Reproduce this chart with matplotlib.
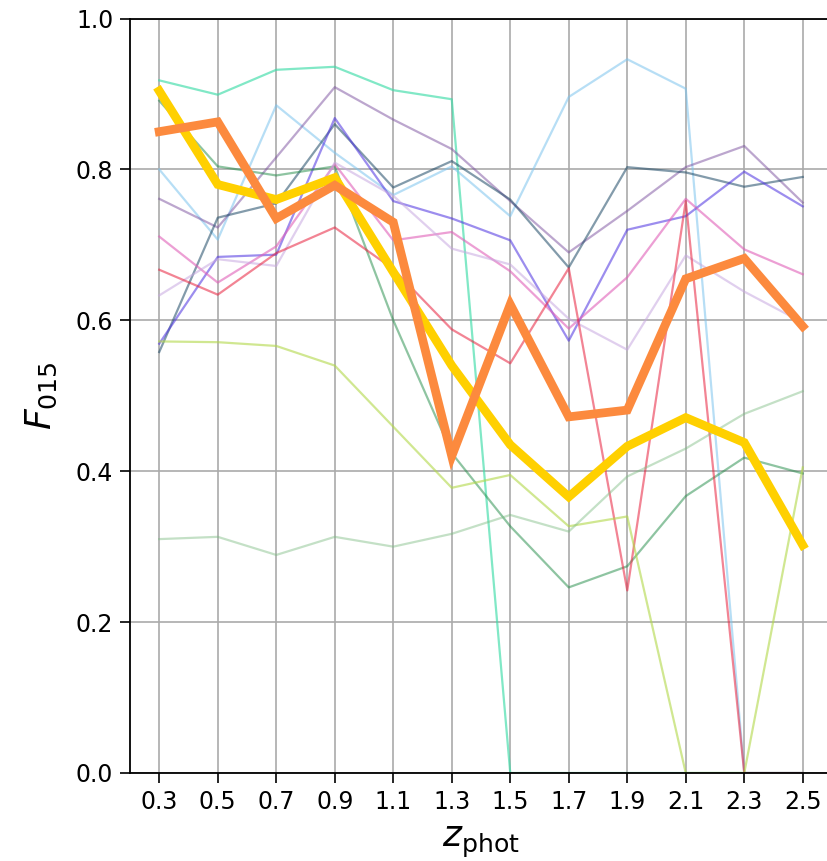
import matplotlib
matplotlib.use("Agg")
import matplotlib.pyplot as plt

# redshift bins
z_phot = [0.3, 0.5, 0.7, 0.9, 1.1, 1.3, 1.5, 1.7, 1.9, 2.1, 2.3, 2.5]
tick_labels = ["0.3", "0.5", "0.7", "0.9", "1.1", "1.3", "1.5", "1.7", "1.9", "2.1", "2.3", "2.5"]

# individual (thin) curves
f_aqua = [0.918, 0.899, 0.932, 0.936, 0.905, 0.893, 0.0, 0.0, 0.0, 0.0, 0.0, 0.0]
f_sky = [0.800, 0.707, 0.885, 0.822, 0.766, 0.804, 0.738, 0.896, 0.946, 0.907, 0.0, 0.0]
f_purple = [0.761, 0.723, 0.816, 0.909, 0.866, 0.827, 0.758, 0.690, 0.745, 0.803, 0.831, 0.756]
f_slate = [0.558, 0.736, 0.755, 0.860, 0.776, 0.811, 0.760, 0.670, 0.803, 0.796, 0.777, 0.790]
f_violet = [0.569, 0.684, 0.687, 0.868, 0.758, 0.735, 0.706, 0.573, 0.720, 0.738, 0.797, 0.751]
f_green = [0.891, 0.804, 0.792, 0.804, 0.600, 0.424, 0.327, 0.246, 0.274, 0.367, 0.418, 0.397]
f_pink = [0.711, 0.650, 0.698, 0.807, 0.706, 0.717, 0.665, 0.589, 0.657, 0.761, 0.694, 0.661]
f_lavender = [0.633, 0.681, 0.672, 0.809, 0.765, 0.695, 0.674, 0.602, 0.561, 0.686, 0.638, 0.597]
f_red = [0.667, 0.634, 0.689, 0.723, 0.668, 0.588, 0.543, 0.669, 0.242, 0.758, 0.0, 0.0]
f_lime = [0.572, 0.571, 0.566, 0.540, 0.459, 0.378, 0.395, 0.327, 0.340, 0.0, 0.0, 0.405]
f_pale = [0.310, 0.313, 0.289, 0.313, 0.300, 0.317, 0.342, 0.320, 0.393, 0.430, 0.476, 0.506]

# highlighted (thick) curves
f_gold = [0.904, 0.780, 0.760, 0.789, 0.664, 0.540, 0.435, 0.366, 0.433, 0.471, 0.438, 0.302]
f_orange = [0.850, 0.863, 0.735, 0.779, 0.730, 0.420, 0.621, 0.472, 0.481, 0.655, 0.682, 0.592]

thin = [
    (f_aqua, "#3ddca8", 0.65),
    (f_sky, "#7cc4ee", 0.55),
    (f_purple, "#7a4f9e", 0.5),
    (f_slate, "#1e4a66", 0.55),
    (f_violet, "#4b30e0", 0.55),
    (f_green, "#1f8a45", 0.5),
    (f_pink, "#e060b8", 0.6),
    (f_lavender, "#c8a8e0", 0.55),
    (f_red, "#e8203c", 0.55),
    (f_lime, "#b2d848", 0.6),
    (f_pale, "#7cbc82", 0.45),
]

fig = plt.figure(figsize=(8.28, 8.61), dpi=100)
ax = fig.add_axes([130 / 828, 88 / 861, 702 / 828, 754.5 / 861])

for vals, col, a in thin:
    ax.plot(z_phot, vals, color=col, alpha=a, lw=1.6)

ax.plot(z_phot, f_gold, color="#ffd000", lw=6.3, solid_joinstyle="miter")
ax.plot(z_phot, f_orange, color="#fc8a3e", lw=6.3, solid_joinstyle="miter")

ax.set_xlim(0.2, 2.6)
ax.set_ylim(0.0, 1.0)
ax.set_xticks(z_phot)
ax.set_xticklabels(tick_labels)
ax.set_yticks([0.0, 0.2, 0.4, 0.6, 0.8, 1.0])
ax.tick_params(labelsize=17, length=7, width=1.2, pad=5)
ax.grid(True, color="#aaaaaa", lw=1.2)
ax.set_axisbelow(True)
for s in ax.spines.values():
    s.set_linewidth(1.3)

ax.set_xlabel(r"$z_{\rm phot}$", fontsize=26, labelpad=8)
ax.set_ylabel(r"$F_{015}$", fontsize=26, labelpad=12)

fig.savefig("out.png", dpi=100)
